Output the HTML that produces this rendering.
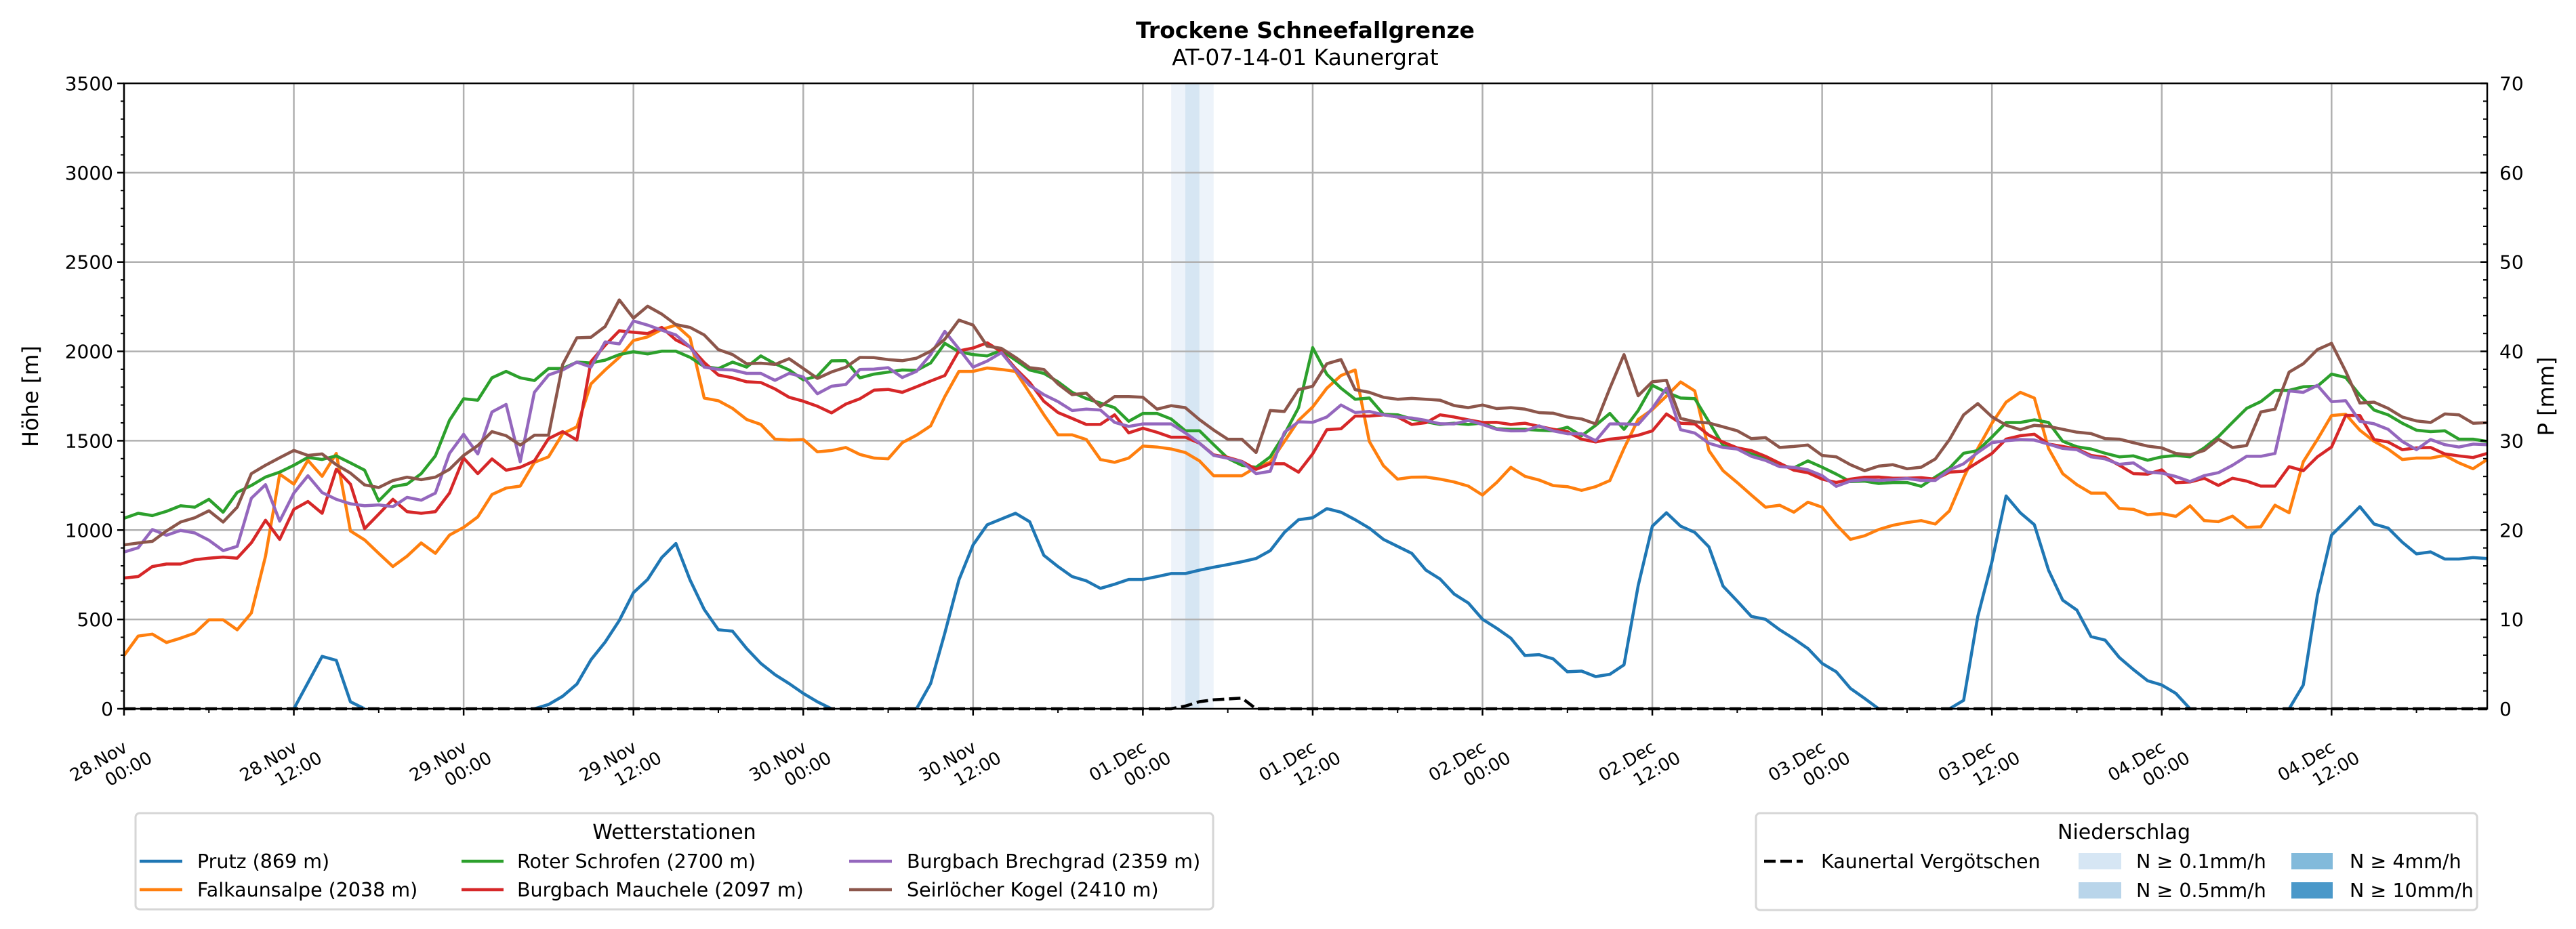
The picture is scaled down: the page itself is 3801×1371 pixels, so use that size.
<!DOCTYPE html>
<html><head><meta charset="utf-8"><style>
html,body{margin:0;padding:0;background:#fff;}
svg{display:block;font-family:"DejaVu Sans","Liberation Sans",sans-serif;}
</style></head><body>
<svg id="chart" width="3801" height="1371" viewBox="0 0 3801 1371" xmlns="http://www.w3.org/2000/svg">
<rect width="3801" height="1371" fill="#fff"/>
<text x="1926" y="56" font-size="33" font-weight="bold" text-anchor="middle">Trockene Schneefallgrenze</text>
<text x="1926" y="96" font-size="33" text-anchor="middle">AT-07-14-01 Kaunergrat</text>
<g id="bands"></g>
<g id="grid"></g>
<g id="series"></g>
<g id="axes"></g>
<text transform="translate(56,585) rotate(-90)" font-size="32" text-anchor="middle">Höhe [m]</text>
<text transform="translate(3768,585) rotate(-90)" font-size="32" text-anchor="middle">P [mm]</text>

<g>
<rect x="200" y="1200" width="1590" height="142" rx="6" fill="#fff" stroke="#d6d6d6" stroke-width="3"/>
<text x="995" y="1238" font-size="30" text-anchor="middle">Wetterstationen</text>
<g font-size="28.5">
<line x1="206" y1="1271" x2="269" y2="1271" stroke="#1f77b4" stroke-width="4.5"/><text x="291" y="1281">Prutz (869 m)</text>
<line x1="206" y1="1313" x2="269" y2="1313" stroke="#ff7f0e" stroke-width="4.5"/><text x="291" y="1323">Falkaunsalpe (2038 m)</text>
<line x1="681" y1="1271" x2="743" y2="1271" stroke="#2ca02c" stroke-width="4.5"/><text x="763" y="1281">Roter Schrofen (2700 m)</text>
<line x1="681" y1="1313" x2="743" y2="1313" stroke="#d62728" stroke-width="4.5"/><text x="763" y="1323">Burgbach Mauchele (2097 m)</text>
<line x1="1253" y1="1271" x2="1316" y2="1271" stroke="#9467bd" stroke-width="4.5"/><text x="1338" y="1281">Burgbach Brechgrad (2359 m)</text>
<line x1="1253" y1="1313" x2="1316" y2="1313" stroke="#8c564b" stroke-width="4.5"/><text x="1338" y="1323">Seirlöcher Kogel (2410 m)</text>
</g></g>

<g>
<rect x="2591" y="1200" width="1064" height="143" rx="6" fill="#fff" stroke="#d6d6d6" stroke-width="3"/>
<text x="3134" y="1238" font-size="30" text-anchor="middle">Niederschlag</text>
<g font-size="28.5">
<line x1="2603" y1="1271" x2="2660" y2="1271" stroke="#000" stroke-width="4.5" stroke-dasharray="17,7"/><text x="2687" y="1281">Kaunertal Vergötschen</text>
<rect x="3067" y="1259" width="63" height="24" fill="#d6e6f4"/><text x="3152" y="1281">N ≥ 0.1mm/h</text>
<rect x="3067" y="1302" width="63" height="24" fill="#b9d5ea"/><text x="3152" y="1324">N ≥ 0.5mm/h</text>
<rect x="3381" y="1259" width="61" height="24" fill="#82badb"/><text x="3467" y="1281">N ≥ 4mm/h</text>
<rect x="3381" y="1302" width="61" height="24" fill="#4a98c9"/><text x="3467" y="1324">N ≥ 10mm/h</text>
</g></g>
</svg>
<script>
const prutz = [0,0,0,0,0,0,0,0,0,0,0,0,0,146,293,271,39,0,0,0,0,0,0,0,
0,0,0,0,0,0,24,70,138,274,373,494,650,724,846,925,721,556,442,434,337,254,191,141,
86,39,0,0,0,0,0,0,0,141,423,721,917,1030,1062,1094,1047,859,796,740,716,674,697,724,
724,740,757,757,776,792,807,823,841,885,987,1058,1069,1120,1100,1058,1011,948,909,870,776,726,642,592,
501,451,395,298,303,279,207,211,180,193,246,689,1022,1097,1022,987,906,686,603,517,501,442,392,337,
254,207,114,58,0,0,0,0,0,0,47,517,823,1191,1097,1030,776,608,552,404,384,287,219,157,
133,86,0,0,0,0,0,0,0,0,133,635,972,1050,1131,1034,1011,932,867,878,838,838,846,841];
const falkaunsalpe = [298,407,418,371,395,423,498,498,442,536,854,1313,1257,1390,1301,1429,995,945,870,796,854,928,870,972,
1015,1074,1199,1235,1246,1379,1410,1539,1578,1818,1896,1967,2061,2081,2123,2147,2076,1739,1724,1681,1619,1591,1509,1504,
1507,1438,1445,1462,1423,1403,1399,1489,1531,1583,1747,1888,1888,1907,1899,1888,1768,1646,1533,1533,1507,1395,1379,1403,
1470,1465,1454,1434,1387,1304,1304,1304,1352,1379,1496,1614,1689,1794,1865,1896,1496,1360,1285,1296,1297,1285,1269,1246,
1196,1266,1351,1301,1280,1249,1243,1222,1243,1277,1457,1619,1674,1750,1829,1779,1445,1332,1266,1196,1128,1139,1100,1156,
1128,1030,948,968,1003,1027,1042,1053,1034,1108,1293,1457,1598,1716,1771,1739,1457,1316,1254,1207,1207,1121,1116,1086,
1092,1077,1136,1053,1047,1078,1015,1018,1139,1097,1382,1507,1641,1648,1559,1497,1453,1395,1403,1403,1418,1376,1343,1395];
const roterSchrofen = [1066,1094,1081,1105,1136,1128,1172,1100,1211,1250,1297,1324,1363,1407,1395,1415,1376,1335,1163,1243,1257,1316,1415,1614,
1735,1727,1852,1888,1852,1837,1904,1904,1940,1935,1951,1982,1998,1986,2001,2001,1967,1915,1904,1940,1912,1975,1931,1896,
1841,1862,1947,1948,1852,1873,1884,1896,1893,1935,2045,1998,1982,1975,2006,1951,1896,1877,1830,1771,1736,1711,1685,1609,
1653,1653,1622,1556,1556,1478,1402,1363,1351,1410,1536,1685,2021,1872,1794,1732,1739,1648,1645,1622,1606,1591,1598,1591,
1599,1567,1564,1564,1559,1555,1575,1528,1586,1653,1564,1669,1810,1771,1739,1736,1606,1473,1454,1426,1398,1363,1348,1387,
1352,1313,1271,1274,1261,1266,1266,1245,1297,1347,1430,1445,1521,1602,1602,1617,1602,1497,1466,1454,1430,1410,1415,1391,
1410,1418,1410,1460,1523,1603,1681,1719,1782,1782,1802,1805,1873,1854,1755,1672,1645,1598,1559,1551,1556,1509,1509,1496];
const mauchele = [732,740,796,810,810,834,843,849,843,929,1055,948,1116,1160,1094,1340,1257,1008,1089,1172,1103,1094,1103,1207,
1403,1316,1398,1335,1351,1387,1512,1551,1504,1943,2034,2115,2107,2100,2134,2064,2025,1938,1868,1852,1830,1826,1790,1743,
1721,1693,1656,1705,1735,1783,1787,1771,1802,1834,1865,2003,2019,2048,1998,1904,1826,1721,1658,1625,1591,1592,1645,1544,
1570,1547,1520,1520,1486,1421,1407,1384,1340,1371,1371,1324,1426,1562,1567,1638,1638,1645,1633,1591,1601,1645,1633,1617,
1602,1603,1591,1598,1580,1564,1551,1509,1493,1509,1517,1531,1555,1650,1598,1594,1531,1492,1460,1445,1413,1374,1335,1321,
1285,1266,1285,1296,1297,1290,1290,1293,1285,1324,1329,1379,1429,1509,1528,1536,1481,1468,1454,1418,1407,1363,1316,1313,
1337,1265,1269,1290,1250,1290,1274,1246,1246,1355,1332,1410,1465,1642,1641,1507,1493,1450,1460,1462,1426,1415,1406,1429];
const brechgrad = [877,901,1003,971,998,984,943,885,909,1178,1254,1050,1207,1304,1210,1172,1147,1136,1141,1131,1183,1167,1207,1429,
1536,1426,1661,1703,1382,1771,1868,1896,1940,1912,2053,2042,2170,2147,2119,2092,2025,1912,1899,1896,1877,1877,1838,1877,
1857,1763,1805,1815,1899,1901,1909,1854,1888,1982,2112,2014,1912,1946,1993,1896,1810,1758,1719,1669,1677,1672,1603,1580,
1594,1594,1594,1544,1486,1418,1402,1382,1316,1329,1547,1606,1603,1633,1700,1658,1664,1645,1633,1627,1614,1595,1594,1614,
1591,1564,1555,1556,1583,1555,1539,1539,1500,1594,1594,1591,1681,1794,1562,1543,1486,1462,1454,1413,1390,1355,1351,1337,
1305,1245,1274,1282,1278,1282,1289,1278,1278,1337,1371,1434,1489,1500,1507,1504,1481,1457,1450,1410,1398,1368,1376,1324,
1319,1300,1272,1305,1321,1363,1413,1413,1429,1779,1771,1810,1719,1724,1609,1595,1564,1496,1450,1507,1478,1465,1481,1478];
const seirloecher = [917,928,937,995,1045,1069,1108,1045,1128,1316,1363,1405,1446,1418,1426,1366,1319,1253,1238,1277,1296,1282,1296,1340,
1418,1473,1551,1528,1476,1531,1531,1927,2076,2079,2139,2288,2186,2253,2209,2150,2134,2092,2010,1982,1931,1934,1927,1959,
1904,1849,1885,1911,1966,1965,1954,1948,1962,2001,2068,2175,2147,2029,2017,1966,1909,1899,1818,1758,1766,1692,1747,1747,
1743,1677,1696,1685,1618,1560,1508,1508,1434,1669,1664,1786,1805,1931,1954,1786,1771,1743,1732,1737,1732,1727,1697,1685,
1700,1680,1685,1677,1657,1654,1633,1622,1594,1794,1982,1752,1830,1838,1625,1606,1599,1578,1556,1512,1517,1462,1468,1476,
1418,1410,1366,1332,1358,1366,1343,1352,1398,1507,1645,1708,1634,1587,1562,1586,1580,1564,1548,1540,1512,1509,1489,1470,
1460,1429,1421,1446,1509,1462,1473,1661,1677,1884,1931,2010,2045,1888,1711,1716,1681,1633,1611,1602,1650,1645,1598,1601];
const precipHours = [74,75,76];
const precipRates = [0.2,0.6,0.2];
const kaunertalHours = [0,74,75,76,77,78,79,80,167];
const kaunertalValues = [0,0,0.3,0.8,1.0,1.1,1.2,0,0];
const yTicks = [0,500,1000,1500,2000,2500,3000,3500];
const y2Ticks = [0,10,20,30,40,50,60,70];
const xTickHours = [0,12,24,36,48,60,72,84,96,108,120,132,144,156];
const xTickLabels = [["28.Nov","00:00"],["28.Nov","12:00"],["29.Nov","00:00"],["29.Nov","12:00"],["30.Nov","00:00"],["30.Nov","12:00"],["01.Dec","00:00"],["01.Dec","12:00"],["02.Dec","00:00"],["02.Dec","12:00"],["03.Dec","00:00"],["03.Dec","12:00"],["04.Dec","00:00"],["04.Dec","12:00"]];

const L=183,R=3670,T=123,B=1046,XMAX=167,YMAX=3500,Y2MAX=70;
const xs=h=>L+h/XMAX*(R-L);
const ys=v=>B-v/YMAX*(B-T);
const y2s=v=>B-v/Y2MAX*(B-T);
const NS="http://www.w3.org/2000/svg";
function mk(tag,attrs,parent){const e=document.createElementNS(NS,tag);for(const k in attrs)e.setAttribute(k,attrs[k]);parent.appendChild(e);return e;}
const gBands=document.getElementById('bands'),gGrid=document.getElementById('grid'),gSer=document.getElementById('series'),gAx=document.getElementById('axes');

precipHours.forEach((h,i)=>{const r=precipRates[i];
 const col=r>=10?'#a4cbe4':r>=4?'#c0dced':r>=0.5?'#d6e6f3':'#edf3fa';
 const b=mk('rect',{x:xs(h),y:T,width:xs(h+1)-xs(h),height:B-T,fill:col},gBands);
 
 
});
yTicks.forEach(v=>{const l=mk('line',{x1:L,x2:R,y1:ys(v),y2:ys(v),stroke:'#b0b0b0','stroke-width':2.5},gGrid);
 
 });
xTickHours.forEach(h=>{const l=mk('line',{x1:xs(h),x2:xs(h),y1:T,y2:B,stroke:'#b0b0b0','stroke-width':2.5},gGrid);
 
 });

const series=[[prutz,'#1f77b4','prutz'],[falkaunsalpe,'#ff7f0e','falkaunsalpe'],[roterSchrofen,'#2ca02c','roter-schrofen'],[mauchele,'#d62728','burgbach-mauchele'],[brechgrad,'#9467bd','burgbach-brechgrad'],[seirloecher,'#8c564b','seirloecher-kogel']];
series.forEach(([arr,col,name])=>{let d='';let pen=false;
 for(let i=0;i<arr.length;i++){
  const zeroRun = name==='prutz' && arr[i]===0 && (i===0||arr[i-1]===0) ;
  if(zeroRun && !(i+1<arr.length && arr[i+1]>0)){pen=false;continue;}
  d+=(pen?'L':'M')+xs(i).toFixed(1)+','+ys(arr[i]).toFixed(1);pen=true;}
 const p=mk('path',{d:d,fill:'none',stroke:col,'stroke-width':4.5,'stroke-linejoin':'round'},gSer);
 
 
});
let dk='';kaunertalHours.forEach((h,i)=>{dk+=(i?'L':'M')+xs(h).toFixed(1)+','+y2s(kaunertalValues[i]).toFixed(1);});
const kp=mk('path',{d:dk,fill:'none',stroke:'#000','stroke-width':4.5,'stroke-dasharray':'17,7'},gSer);



mk('rect',{x:L,y:T,width:R-L,height:B-T,fill:'none',stroke:'#000','stroke-width':2.5},gAx);
yTicks.forEach(v=>{mk('line',{x1:L-10,x2:L,y1:ys(v),y2:ys(v),stroke:'#000','stroke-width':2.5},gAx);
 const t=mk('text',{x:L-16,y:ys(v)+10,'font-size':28,'text-anchor':'end'},gAx);t.textContent=v;
 
 });
for(let v=100;v<YMAX;v+=100){if(v%500)mk('line',{x1:L-5,x2:L,y1:ys(v),y2:ys(v),stroke:'#000','stroke-width':2},gAx);}
y2Ticks.forEach(v=>{mk('line',{x1:R-10,x2:R,y1:y2s(v),y2:y2s(v),stroke:'#000','stroke-width':2.5},gAx);
 const t=mk('text',{x:R+18,y:y2s(v)+10,'font-size':28},gAx);t.textContent=v;
 
 });
for(let v=2;v<Y2MAX;v+=2){if(v%10)mk('line',{x1:R-6,x2:R,y1:y2s(v),y2:y2s(v),stroke:'#000','stroke-width':2},gAx);}
xTickHours.forEach((h,i)=>{const x=xs(h);
 mk('line',{x1:x,x2:x,y1:B,y2:B+10,stroke:'#000','stroke-width':2.5},gAx);
 mk('line',{x1:xs(h+6),x2:xs(h+6),y1:B,y2:B+6,stroke:'#000','stroke-width':2},gAx);
 const g=mk('g',{transform:`translate(${(x+24).toFixed(1)},${B+52}) rotate(-30)`},gAx);
 
 
 const t1=mk('text',{x:-20,y:0,'font-size':26,'text-anchor':'end'},g);t1.textContent=xTickLabels[i][0];
 const t2=mk('text',{x:4,y:32,'font-size':26,'text-anchor':'end'},g);t2.textContent=xTickLabels[i][1];
});
</script>
</body></html>
